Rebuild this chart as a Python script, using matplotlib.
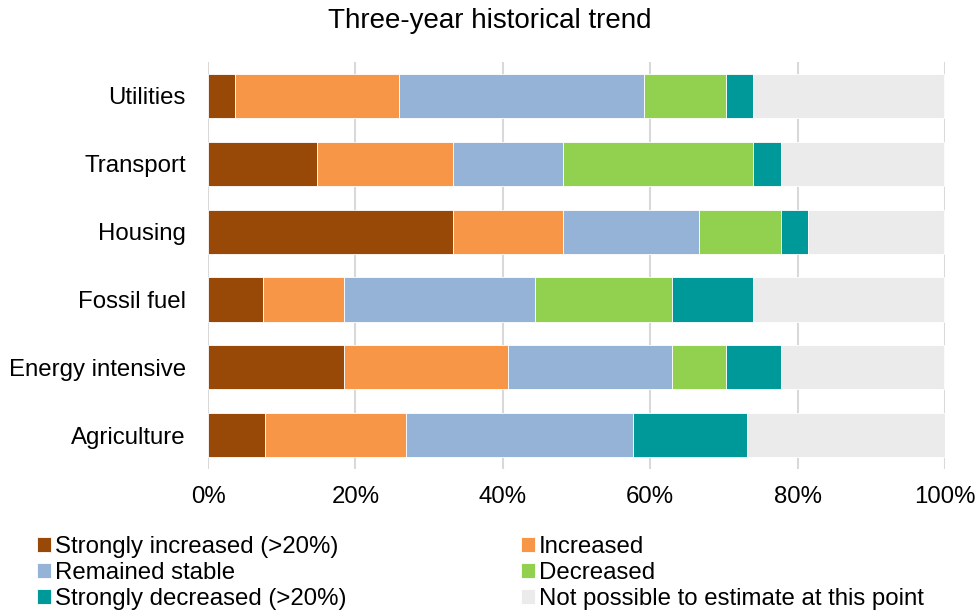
import matplotlib.pyplot as plt
import numpy as np

plt.rcParams["font.family"] = ["Liberation Sans", "DejaVu Sans"]

# Categories, top to bottom
sectors = ["Utilities", "Transport", "Housing", "Fossil fuel", "Energy intensive", "Agriculture"]

# Share of respondents (%) per answer
strongly_increased = [3.7, 14.8, 33.3, 7.4, 18.5, 7.7]
increased = [22.2, 18.5, 14.8, 11.1, 22.2, 19.2]
remained_stable = [33.3, 14.8, 18.5, 25.9, 22.2, 30.8]
decreased = [11.1, 25.9, 11.1, 18.5, 7.4, 0.0]
strongly_decreased = [3.7, 3.7, 3.7, 11.1, 7.4, 15.4]
not_possible = [25.9, 22.2, 18.5, 25.9, 22.2, 26.9]

series = [
    ("Strongly increased (>20%)", strongly_increased, "#984807"),
    ("Increased", increased, "#F79646"),
    ("Remained stable", remained_stable, "#95B3D7"),
    ("Decreased", decreased, "#92D050"),
    ("Strongly decreased (>20%)", strongly_decreased, "#009999"),
    ("Not possible to estimate at this point", not_possible, "#EBEBEB"),
]

fig = plt.figure(figsize=(9.79, 6.14), dpi=100)
ax = fig.add_axes([0.2125, 0.236, 0.7528, 0.663])

y = np.arange(len(sectors))
left = np.zeros(len(sectors))
handles = []
for label, vals, color in series:
    vals = np.array(vals)
    bars = ax.barh(y, vals, left=left, height=0.65, color=color,
                   edgecolor="white", linewidth=0.6, label=label, zorder=2)
    handles.append(bars)
    left += vals

ax.set_xlim(0, 100)
ax.set_ylim(len(sectors) - 0.5, -0.5)
ax.set_yticks(y)
ax.set_yticklabels(sectors, fontsize=17.3)
ax.set_xticks(np.arange(0, 101, 20))
ax.set_xticklabels([f"{v}%" for v in range(0, 101, 20)], fontsize=17.3)
ax.tick_params(length=0)
ax.tick_params(axis="x", pad=12)
ax.tick_params(axis="y", pad=16)
for s in ax.spines.values():
    s.set_visible(False)
ax.grid(axis="x", color="#D9D9D9", linewidth=1.5, zorder=0)
ax.set_axisbelow(True)

fig.suptitle("Three-year historical trend", fontsize=20, y=0.987)

# legend fills row by row in the reference
order = [0, 2, 4, 1, 3, 5]
fig.legend(handles=[handles[i] for i in order], loc="upper left",
           bbox_to_anchor=(0.028, 0.143),
           ncol=2, frameon=False, fontsize=17.3, handlelength=0.6,
           handleheight=0.6, handletextpad=0.15, columnspacing=7.25,
           labelspacing=0.17, borderaxespad=0)

plt.savefig("out.png", dpi=100)
